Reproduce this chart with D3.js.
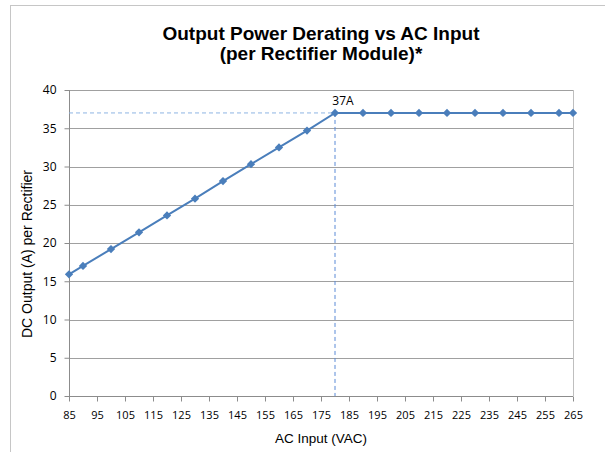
<!DOCTYPE html>
<html><head><meta charset="utf-8">
<script src="https://cdn.jsdelivr.net/npm/d3@7"></script>
<style>body{margin:0;background:#fff}svg{display:block}</style>
</head><body>
<svg id="c" width="605" height="452"></svg>
<script>
const acInput = [85, 90, 100, 110, 120, 130, 140, 150, 160, 170, 180, 190, 200, 210, 220, 230, 240, 250, 260, 265];
const dcOutput = [15.9, 17.0, 19.2, 21.4, 23.6, 25.8, 28.1, 30.3, 32.5, 34.7, 37, 37, 37, 37, 37, 37, 37, 37, 37, 37];
const xTicks = [85, 95, 105, 115, 125, 135, 145, 155, 165, 175, 185, 195, 205, 215, 225, 235, 245, 255, 265];
const yTicks = [0, 5, 10, 15, 20, 25, 30, 35, 40];
const refPoint = {x: 180, y: 37, label: "37A"};
const titleLines = ["Output Power Derating vs AC Input", "(per Rectifier Module)*"];
const xTitle = "AC Input (VAC)";
const yTitle = "DC Output (A) per Rectifier";

const svg = d3.select("#c");
const L = 69, R = 573, T = 90, B = 396;
const x = d3.scaleLinear().domain([85, 265]).range([L, R]);
const y = d3.scaleLinear().domain([0, 40]).range([B, T]);
const tickFont = "'Open Sans', sans-serif";

// chart frame
svg.append("rect").attr("x", 10.5).attr("y", 5.5).attr("width", 620).attr("height", 460)
  .attr("fill", "none").attr("stroke", "#c6c6c6").attr("stroke-width", 1);

// gridlines
svg.append("g").selectAll("line").data(yTicks.filter(d => d > 0)).join("line")
  .attr("x1", L).attr("x2", R).attr("y1", d => Math.round(y(d)) + 0.5).attr("y2", d => Math.round(y(d)) + 0.5)
  .attr("stroke", "#a0a0a0").attr("stroke-width", 1);
// plot right border
svg.append("line").attr("x1", R + 0.5).attr("x2", R + 0.5).attr("y1", T).attr("y2", B)
  .attr("stroke", "#bfbfbf");

// axes
const xAxis = d3.axisBottom(x).tickValues(xTicks).tickSize(5).tickPadding(10).tickFormat(d3.format("d"));
const gx = svg.append("g").attr("transform", `translate(0,${B + 0.5})`).call(xAxis);
gx.select(".domain").attr("stroke", "#8c8c8c").attr("d", `M${L},0H${R}`);
gx.selectAll(".tick line").attr("stroke", "#8c8c8c");
gx.selectAll("text").attr("font-family", tickFont).attr("font-size", "11px").attr("fill", "#000");

const yAxis = d3.axisLeft(y).tickValues(yTicks).tickSize(5).tickPadding(8);
const gy = svg.append("g").attr("transform", `translate(${L + 0.5},0)`).call(yAxis);
gy.select(".domain").attr("stroke", "#8c8c8c").attr("d", `M0,${T}V${B}`);
gy.selectAll(".tick line").attr("stroke", "#8c8c8c");
gy.selectAll("text").attr("font-family", tickFont).attr("font-size", "12px").attr("fill", "#000");

// reference dashed lines
svg.append("line").attr("x1", L).attr("x2", x(refPoint.x)).attr("y1", y(refPoint.y)).attr("y2", y(refPoint.y))
  .attr("stroke", "#8db4e3").attr("stroke-width", 1).attr("stroke-dasharray", "4,3");
svg.append("line").attr("x1", x(refPoint.x)).attr("x2", x(refPoint.x)).attr("y1", y(refPoint.y)).attr("y2", B)
  .attr("stroke", "#5a8ad6").attr("stroke-width", 1).attr("stroke-dasharray", "4,3");

// series line
const pts = acInput.map((v, i) => [v, dcOutput[i]]);
svg.append("path").datum(pts)
  .attr("d", d3.line().x(d => x(d[0])).y(d => y(d[1])))
  .attr("fill", "none").attr("stroke", "#4a7ebb").attr("stroke-width", 2);
svg.append("g").selectAll("path").data(pts).join("path")
  .attr("d", d3.symbol(d3.symbolDiamond2, 44))
  .attr("transform", d => `translate(${x(d[0])},${y(d[1])})`)
  .attr("fill", "#4a7ebb");

// data label
svg.append("text").attr("x", x(refPoint.x) + 8).attr("y", y(refPoint.y) - 8)
  .attr("text-anchor", "middle").attr("font-family", tickFont).attr("font-size", "12px")
  .text(refPoint.label);

// titles
const tt = svg.append("text").attr("text-anchor", "middle").attr("font-family", "'Liberation Sans', Arial, sans-serif")
  .attr("font-weight", "bold").attr("font-size", "19px").attr("fill", "#000");
titleLines.forEach((t, i) => tt.append("tspan").attr("x", 321).attr("y", 40 + i * 20).text(t));

svg.append("text").attr("x", 321).attr("y", 443).attr("text-anchor", "middle")
  .attr("font-family", "'Liberation Sans', Arial, sans-serif").attr("font-size", "13.5px").text(xTitle);
svg.append("text").attr("transform", "translate(32,254) rotate(-90)").attr("text-anchor", "middle")
  .attr("font-family", "'Liberation Sans', Arial, sans-serif").attr("font-size", "14px").text(yTitle);
</script>
</body></html>
